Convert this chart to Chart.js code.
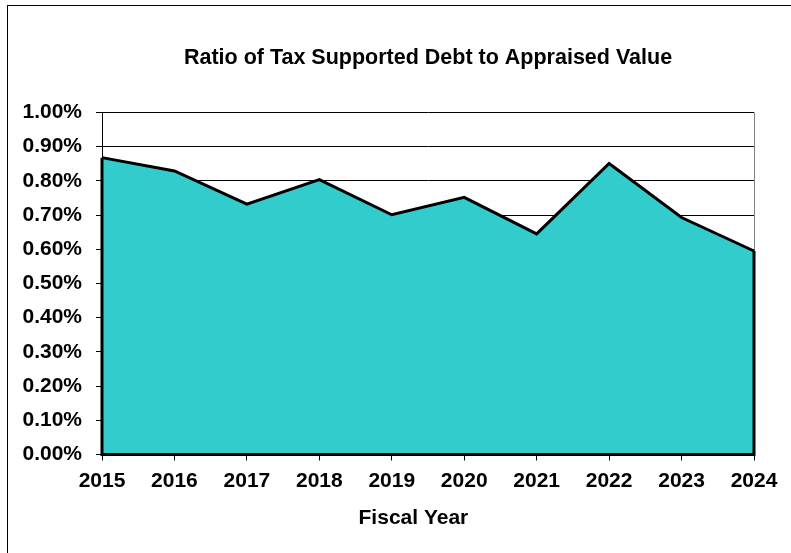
<!DOCTYPE html>
<html>
<head>
<meta charset="utf-8">
<script src="https://cdn.jsdelivr.net/npm/chart.js@4/dist/chart.umd.min.js"></script>
<style>
  html, body { margin: 0; padding: 0; background: #fff; }
  #wrap { position: relative; width: 791px; height: 553px; overflow: hidden; }
  #frame { position: absolute; left: 7px; top: 5px; width: 800px; height: 600px;
           border-left: 1px solid #000; border-top: 1px solid #000; }
  canvas { position: absolute; left: 0; top: 0; }
</style>
</head>
<body>
<div id="wrap">
  <div id="frame"></div>
  <canvas id="chart" width="791" height="553"></canvas>
</div>
<script>
const years = ["2015", "2016", "2017", "2018", "2019", "2020", "2021", "2022", "2023", "2024"];
const debtRatio = [0.868, 0.829, 0.732, 0.804, 0.701, 0.752, 0.645, 0.851, 0.693, 0.595];
const yTicks = [0, 0.1, 0.2, 0.3, 0.4, 0.5, 0.6, 0.7, 0.8, 0.9, 1.0];

const FONT = "'Liberation Sans', Arial, sans-serif";

// area outline: Excel strokes the sides and the base too, not only the top line
const areaEdges = {
  id: "areaEdges",
  afterDatasetsDraw(chart) {
    const pts = chart.getDatasetMeta(0).data;
    const base = chart.scales.y.getPixelForValue(0);
    const first = pts[0], last = pts[pts.length - 1];
    const ctx = chart.ctx;
    ctx.save();
    ctx.strokeStyle = "#000";
    ctx.lineWidth = 3;
    ctx.lineJoin = "miter";
    ctx.beginPath();
    ctx.moveTo(first.x, first.y);
    ctx.lineTo(first.x, base);
    ctx.lineTo(last.x, base);
    ctx.lineTo(last.x, last.y);
    ctx.stroke();
    ctx.restore();
  },
};

new Chart(document.getElementById("chart").getContext("2d"), {
  type: "line",
  data: {
    labels: years,
    datasets: [{
      data: debtRatio,
      borderColor: "#000",
      borderWidth: 3,
      backgroundColor: "#33CCCC",
      fill: "origin",
      tension: 0,
      pointRadius: 0,
    }],
  },
  options: {
    responsive: false,
    animation: false,
    layout: { padding: { left: 7, right: 37, top: 0, bottom: 0 } },
    plugins: {
      legend: { display: false },
      tooltip: { enabled: false },
      title: {
        display: true,
        fullSize: false,
        text: "Ratio of Tax Supported Debt to Appraised Value",
        color: "#000",
        font: { family: FONT, size: 21.5, weight: "bold" },
        padding: { top: 45, bottom: 41.7 },
      },
    },
    scales: {
      x: {
        offset: false,
        grid: {
          color: (c) => (c.index === years.length - 1 ? "#808080" : "rgba(0,0,0,0)"),
          tickColor: "#000",
          tickLength: 6,
        },
        border: { color: "#000", width: 1 },
        ticks: {
          color: "#000",
          padding: 8,
          maxRotation: 0,
          autoSkip: false,
          font: { family: FONT, size: 21, weight: "bold" },
        },
        title: {
          display: true,
          // trailing spaces nudge the centred title left, as in the original
          text: "Fiscal Year     ",
          color: "#000",
          font: { family: FONT, size: 21, weight: "bold" },
          padding: { top: 0, bottom: 22 },
        },
        afterFit: (s) => {
          s.height = 98.5;
          s.paddingLeft = 0;
          s.paddingRight = 0;
        },
      },
      y: {
        min: yTicks[0],
        max: yTicks[yTicks.length - 1],
        afterBuildTicks: (s) => { s.ticks = yTicks.map((v) => ({ value: v })); },
        grid: { color: "#000", tickColor: "#000", tickLength: 6, lineWidth: 1 },
        border: { color: "#000", width: 1 },
        ticks: {
          color: "#000",
          padding: 14,
          font: { family: FONT, size: 21, weight: "bold" },
          callback: (v) => Number(v).toFixed(2) + "%",
        },
        afterFit: (s) => {
          s.width = 95;
          s.paddingTop = 0;
          s.paddingBottom = 0;
        },
      },
    },
  },
  plugins: [areaEdges],
});
</script>
</body>
</html>
